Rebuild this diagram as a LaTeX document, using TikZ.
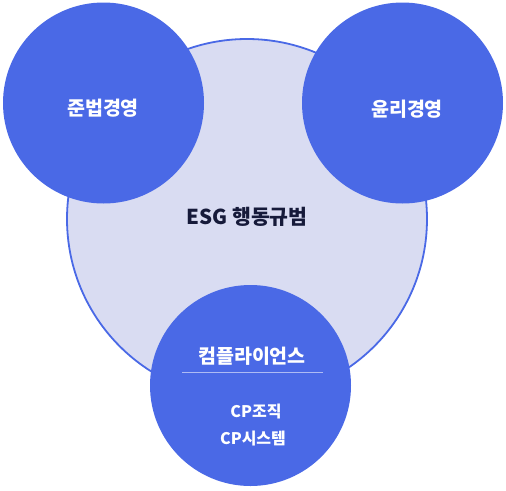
\documentclass[tikz,border=0pt]{standalone}
\usepackage{fontspec}
\newfontfamily\krfont{Noto Sans CJK KR}
\usepackage{tikz}
\usetikzlibrary{positioning,backgrounds}

\definecolor{cblue}{HTML}{4A69E6}
\definecolor{clav}{HTML}{D9DCF2}
\definecolor{cnavy}{HTML}{161A3A}
\definecolor{cline}{HTML}{AEBBF4}

\begin{document}
\begin{tikzpicture}[
    x=1pt, y=-1pt,
    core/.style={circle, draw=cblue, line width=1.8pt, fill=clav, minimum size=360pt, inner sep=0pt},
    pillar/.style={circle, fill=cblue, minimum size=201pt, inner sep=0pt},
    lbl/.style={font=\krfont\bfseries\fontsize{19.5}{23}\selectfont, text=white},
    sub/.style={font=\krfont\bfseries\fontsize{16}{19}\selectfont, text=white},
    sepline/.style={cline, line width=0.8pt}
]
\useasboundingbox (0,0) rectangle (506,490);
\node[core] (esg) at (247,219) {};
\node[pillar] (law) at (103.5,103) {};
\node[pillar] (ethic) at (402.5,103) {};
\node[pillar] (cp) at (250.5,385.5) {};

\node[font=\krfont\bfseries\fontsize{20.5}{24}\selectfont, text=cnavy] (esgT) at (247,217) {ESG 행동규범};
\node[lbl] (lawT) at (103,108) {준법경영};
\node[lbl] (ethicT) at (407,109) {윤리경영};
\node[lbl] (cpT) at (252,356) {컴플라이언스};
\coordinate (sepL) at (182,372);
\coordinate (sepR) at (323,372);
\draw[sepline] (sepL) -- (sepR);
\node[sub] (org) at (256,412) {CP조직};
\node[sub] (sys) at (253,439) {CP시스템};
\end{tikzpicture}
\end{document}
